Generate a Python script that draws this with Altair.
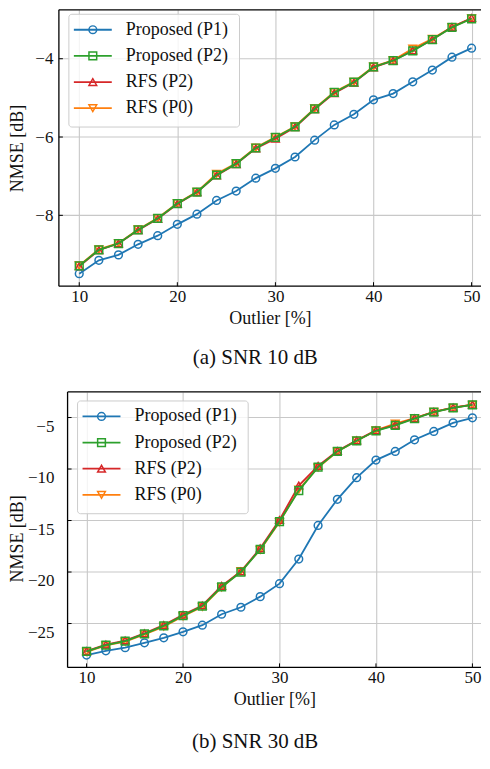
import altair as alt
import pandas as pd

outlier = [10, 12, 14, 16, 18, 20, 22, 24, 26, 28, 30, 32, 34, 36, 38, 40, 42, 44, 46, 48, 50]

series_names = ["Proposed (P1)", "Proposed (P2)", "RFS (P2)", "RFS (P0)"]
series_colors = ["#1f77b4", "#2ca02c", "#d62728", "#ff7f0e"]
series_shapes = ["circle", "square", "triangle-up", "triangle-down"]
draw_order = ["Proposed (P1)", "RFS (P0)", "RFS (P2)", "Proposed (P2)"]

# (a) SNR 10 dB
snr10_p1 = [-9.49, -9.15, -9.01, -8.74, -8.52, -8.23, -7.97, -7.62, -7.38, -7.05, -6.80,
            -6.51, -6.08, -5.69, -5.42, -5.05, -4.89, -4.59, -4.29, -3.96, -3.73]
snr10_p2 = [-9.29, -8.88, -8.72, -8.37, -8.08, -7.70, -7.41, -6.97, -6.68, -6.28, -6.01,
            -5.74, -5.28, -4.86, -4.60, -4.21, -4.05, -3.80, -3.51, -3.20, -2.98]
snr10_rfs_p2 = [-9.30, -8.89, -8.72, -8.38, -8.09, -7.71, -7.41, -6.98, -6.69, -6.29, -6.04,
                -5.75, -5.29, -4.88, -4.61, -4.22, -4.05, -3.79, -3.51, -3.19, -2.96]
snr10_rfs_p0 = [-9.28, -8.87, -8.71, -8.36, -8.07, -7.69, -7.40, -6.94, -6.67, -6.27, -6.00,
                -5.73, -5.27, -4.85, -4.59, -4.20, -4.04, -3.74, -3.49, -3.19, -2.97]

# (b) SNR 30 dB
snr30_p1 = [-28.06, -27.65, -27.35, -26.87, -26.39, -25.81, -25.16, -24.10, -23.42, -22.39, -21.13,
            -18.74, -15.48, -12.94, -10.84, -9.13, -8.29, -7.16, -6.35, -5.52, -5.03]
snr30_p2 = [-27.71, -27.10, -26.71, -26.00, -25.23, -24.23, -23.32, -21.45, -20.00, -17.81, -15.10,
            -12.10, -9.81, -8.29, -7.26, -6.29, -5.77, -5.10, -4.48, -4.06, -3.77]
snr30_rfs_p2 = [-27.68, -27.05, -26.65, -25.95, -25.15, -24.15, -23.25, -21.35, -19.95, -17.70, -14.95,
                -11.60, -9.70, -8.25, -7.22, -6.25, -5.72, -5.07, -4.45, -4.04, -3.75]
snr30_rfs_p0 = [-27.75, -27.12, -26.75, -26.05, -25.30, -24.30, -23.38, -21.50, -19.90, -17.85, -15.15,
                -12.00, -9.85, -8.30, -7.25, -6.25, -5.60, -5.05, -4.45, -4.05, -3.76]

x_ticks = [10, 20, 30, 40, 50]
snr10_y_ticks = [-8, -6, -4]
snr30_y_ticks = [-25, -20, -15, -10, -5]

FONT = "Liberation Serif"
GRID = "#c8c8c8"
SPINE = "black"


def long_frame(values_by_series):
    rows = []
    for name, vals in zip(series_names, values_by_series):
        for x, y in zip(outlier, vals):
            rows.append({"outlier": x, "nmse": y, "series": name})
    return pd.DataFrame(rows)


color_scale = alt.Scale(domain=series_names, range=series_colors)
shape_scale = alt.Scale(domain=series_names, range=series_shapes)


def panel(values_by_series, xdom, xs, ydom, yticks, width, height, caption, shift, title_x,
          label_pad, cap_offset):
    df = long_frame(values_by_series)
    xsc = alt.Scale(domain=xdom, range=[xs, width], nice=False, zero=False)
    ysc = alt.Scale(domain=ydom, nice=False, zero=False)
    xaxis = alt.Axis(values=x_ticks, title="Outlier [%]", format="d", grid=True)
    x = alt.X("outlier:Q", scale=xsc, axis=xaxis)
    yaxis = alt.Axis(values=yticks, title="NMSE [dB]", format="d", grid=False,
                     position=xs, labelPadding=label_pad, titleX=title_x,
                     titleBaseline="bottom")
    y = alt.Y("nmse:Q", scale=ysc, axis=yaxis)

    # horizontal grid lines at the y tick values
    ytick_df = pd.DataFrame({"nmse": yticks})
    hgrid = alt.Chart(ytick_df).mark_rule(color=GRID, strokeWidth=1.1).encode(
        y=y, x=alt.value(xs), x2=alt.value(width))

    layers = [hgrid]
    for name in draw_order:
        c = series_colors[series_names.index(name)]
        s = series_shapes[series_names.index(name)]
        base = alt.Chart(df).transform_filter(alt.datum.series == name)
        layers.append(base.mark_line(color=c, strokeWidth=1.8).encode(x=x, y=y))
        layers.append(base.mark_point(color=c, shape=s, filled=False, size=60, strokeWidth=1.5,
                                      opacity=1).encode(x=x, y=y))

    # axes frame (left, bottom, top spines)
    one = pd.DataFrame({"a": [0]})
    left = alt.Chart(one).mark_rule(color=SPINE, strokeWidth=1.3).encode(
        x=alt.value(xs), y=alt.value(0), y2=alt.value(height))
    bot = alt.Chart(one).mark_rule(color=SPINE, strokeWidth=1.3).encode(
        x=alt.value(xs), x2=alt.value(width), y=alt.value(height))
    topr = alt.Chart(one).mark_rule(color=SPINE, strokeWidth=1.3).encode(
        x=alt.value(xs), x2=alt.value(width), y=alt.value(0))

    # inward tick marks
    xtick_df = pd.DataFrame({"outlier": x_ticks})
    xt = alt.Chart(xtick_df).mark_rule(color=SPINE, strokeWidth=1).encode(
        x=x, y=alt.value(height), y2=alt.value(height - 4))
    yt = alt.Chart(ytick_df).mark_rule(color=SPINE, strokeWidth=1).encode(
        y=y, x=alt.value(xs), x2=alt.value(xs + 4))

    # legend (inside upper-left)
    leg = pd.DataFrame({"series": series_names, "idx": list(range(len(series_names)))})
    box = alt.Chart(one).mark_rect(
        fill="white", fillOpacity=0.8, stroke="#cccccc", strokeWidth=1, cornerRadius=3
    ).encode(x=alt.value(xs + 10), x2=alt.value(xs + 181),
             y=alt.value(9 - shift), y2=alt.value(122 - shift))
    lbase = alt.Chart(leg).transform_calculate(ry=f"24.5 + 26.2 * datum.idx - {shift}")
    ly = alt.Y("ry:Q", scale=None, axis=None)
    lline = lbase.mark_rule(strokeWidth=1.8).encode(
        x=alt.value(xs + 15), x2=alt.value(xs + 53), y=ly,
        color=alt.Color("series:N", scale=color_scale, legend=None))
    lpt = lbase.mark_point(filled=False, size=60, strokeWidth=1.5, opacity=1).encode(
        x=alt.value(xs + 34), y=ly,
        color=alt.Color("series:N", scale=color_scale, legend=None),
        shape=alt.Shape("series:N", scale=shape_scale, legend=None))
    ltext = lbase.mark_text(align="left", baseline="middle", font=FONT, fontSize=18,
                            color="#111").encode(x=alt.value(xs + 67), y=ly, text="series:N")

    data_layer = alt.layer(*layers, left, bot, topr, xt, yt)
    legend_layer = alt.layer(box, lline, lpt, ltext)
    return alt.layer(data_layer, legend_layer).resolve_scale(y="independent").properties(
        width=width, height=height,
        title=alt.TitleParams(caption, orient="bottom", frame="bounds", anchor="middle", dx=10,
                              font=FONT, fontSize=21, fontWeight="normal", color="#111",
                              offset=cap_offset),
    )


top = panel([snr10_p1, snr10_p2, snr10_rfs_p2, snr10_rfs_p0], [7.925, 50.96], 0,
            [-9.81, -2.75], snr10_y_ticks, 423, 277, "(a) SNR 10 dB", 4.5, -32, 6, 20)
bottom = panel([snr30_p1, snr30_p2, snr30_rfs_p2, snr30_rfs_p0], [8.03, 50.89], 8.7,
               [-29.26, -2.52], snr30_y_ticks, 423, 276, "(b) SNR 30 dB", 0, -32.3, 5, 23)

chart = alt.vconcat(top, bottom, spacing=23).properties(padding=0).configure_view(
    strokeOpacity=0
).configure_axis(
    labelFont=FONT, labelFontSize=17, labelColor="#111", titleFont=FONT, titleFontSize=18,
    titleFontWeight="normal", titleColor="#111", gridColor=GRID, gridWidth=1.1,
    ticks=False, tickSize=0, domain=False, labelPadding=2,
).configure_axisX(titlePadding=5)

chart.save("out.html", embed_options={"renderer": "svg", "actions": False})
